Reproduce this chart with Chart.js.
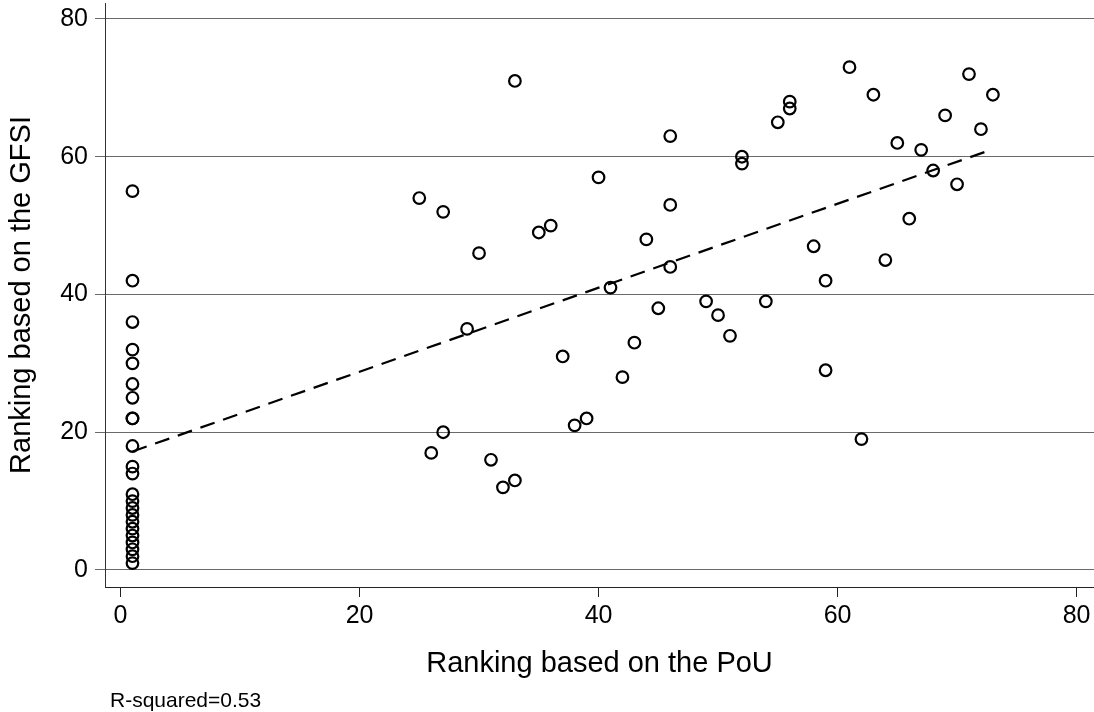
<!DOCTYPE html>
<html>
<head>
<meta charset="utf-8">
<style>
  html, body { margin: 0; padding: 0; background: #ffffff; }
  #wrap { width: 1094px; height: 712px; position: relative; }
</style>
<script src="https://cdn.jsdelivr.net/npm/chart.js@4/dist/chart.umd.min.js"></script>
</head>
<body>
<div id="wrap"><canvas id="c" width="1094" height="712"></canvas></div>
<script>
// Ranking based on the PoU (x) and on the GFSI (y), one entry per country
const pou = [
  1, 1, 1, 1, 1, 1, 1, 1, 1, 1, 1, 1, 1, 1, 1, 1, 1, 1, 1, 1, 1, 1, 1,
  25, 27, 33, 30, 29, 35, 36, 40, 46, 46, 44, 46, 41, 49, 45, 37, 43, 42, 39, 38, 27, 26, 31, 33, 32,
  61, 71, 63, 73, 56, 56, 69, 55, 72, 65, 67, 52, 52, 68, 70, 66, 58, 64, 59, 54, 50, 51, 59, 62
];
const gfsi = [
  55, 42, 36, 32, 30, 27, 25, 22, 22, 18, 15, 14, 11, 10, 9, 8, 7, 6, 5, 4, 3, 2, 1,
  54, 52, 71, 46, 35, 49, 50, 57, 63, 53, 48, 44, 41, 39, 38, 31, 33, 28, 22, 21, 20, 17, 16, 13, 12,
  73, 72, 69, 69, 68, 67, 66, 65, 64, 62, 61, 60, 59, 58, 56, 51, 47, 45, 42, 39, 37, 34, 29, 19
];
// Fitted line end points
const fitX = [1, 73];
const fitY = [17.2, 61.1];
// Tick labels
const xTicks = [0, 20, 40, 60, 80];
const yTicks = [0, 20, 40, 60, 80];
const xTitle = 'Ranking based on the PoU';
const yTitle = 'Ranking based on the GFSI';
const note = 'R-squared=0.53';

const FONT = '"Liberation Sans", Arial, Helvetica, sans-serif';

const notePlugin = {
  id: 'note',
  afterDraw(chart) {
    const ctx = chart.ctx;
    ctx.save();
    ctx.fillStyle = '#000';
    ctx.font = '21px ' + FONT;
    ctx.textAlign = 'left';
    ctx.textBaseline = 'alphabetic';
    ctx.fillText(note, 110, 707);
    ctx.restore();
  }
};

new Chart(document.getElementById('c'), {
  type: 'scatter',
  data: {
    datasets: [
      {
        type: 'scatter',
        data: pou.map((x, i) => ({ x: x, y: gfsi[i] })),
        pointStyle: 'circle',
        pointRadius: 5.8,
        pointBorderWidth: 2.2,
        pointBackgroundColor: 'rgba(0,0,0,0)',
        pointBorderColor: '#000',
        pointHoverRadius: 5.8,
        order: 1
      },
      {
        type: 'line',
        data: fitX.map((x, i) => ({ x: x, y: fitY[i] })),
        borderColor: '#000',
        borderWidth: 2.2,
        borderDash: [15, 9],
        pointRadius: 0,
        fill: false,
        tension: 0,
        order: 2
      }
    ]
  },
  options: {
    responsive: false,
    animation: false,
    events: [],
    layout: { autoPadding: false, padding: { top: 3, right: 0, left: 0, bottom: 0 } },
    plugins: {
      legend: { display: false },
      tooltip: { enabled: false }
    },
    scales: {
      x: {
        type: 'linear',
        min: -1.3,
        max: 81.46,
        afterBuildTicks(scale) { scale.ticks = xTicks.map(v => ({ value: v })); },
        afterFit(scale) { scale.height = 125; scale.paddingLeft = 0; scale.paddingRight = 0; },
        border: { display: true, color: '#222', width: 1 },
        grid: { display: true, drawOnChartArea: false, drawTicks: true, tickLength: 10, tickColor: '#222', lineWidth: 1 },
        ticks: { color: '#000', font: { family: FONT, size: 25 }, padding: 4, maxRotation: 0 },
        title: { display: true, text: xTitle, color: '#000', font: { family: FONT, size: 29 }, padding: { top: 0, bottom: 31 } }
      },
      y: {
        type: 'linear',
        min: -2.47,
        max: 82.32,
        afterBuildTicks(scale) { scale.ticks = yTicks.map(v => ({ value: v })); },
        afterFit(scale) { scale.width = 105; scale.paddingTop = 0; scale.paddingBottom = 0; },
        border: { display: true, color: '#333', width: 1 },
        grid: { display: true, color: '#6a6a6a', lineWidth: 1, drawTicks: true, tickLength: 10, tickColor: '#6a6a6a' },
        ticks: { color: '#000', font: { family: FONT, size: 25 }, padding: 7 },
        title: { display: true, text: yTitle, color: '#000', font: { family: FONT, size: 29 }, padding: { top: 5, bottom: 0 } }
      }
    }
  },
  plugins: [notePlugin]
});
</script>
</body>
</html>
